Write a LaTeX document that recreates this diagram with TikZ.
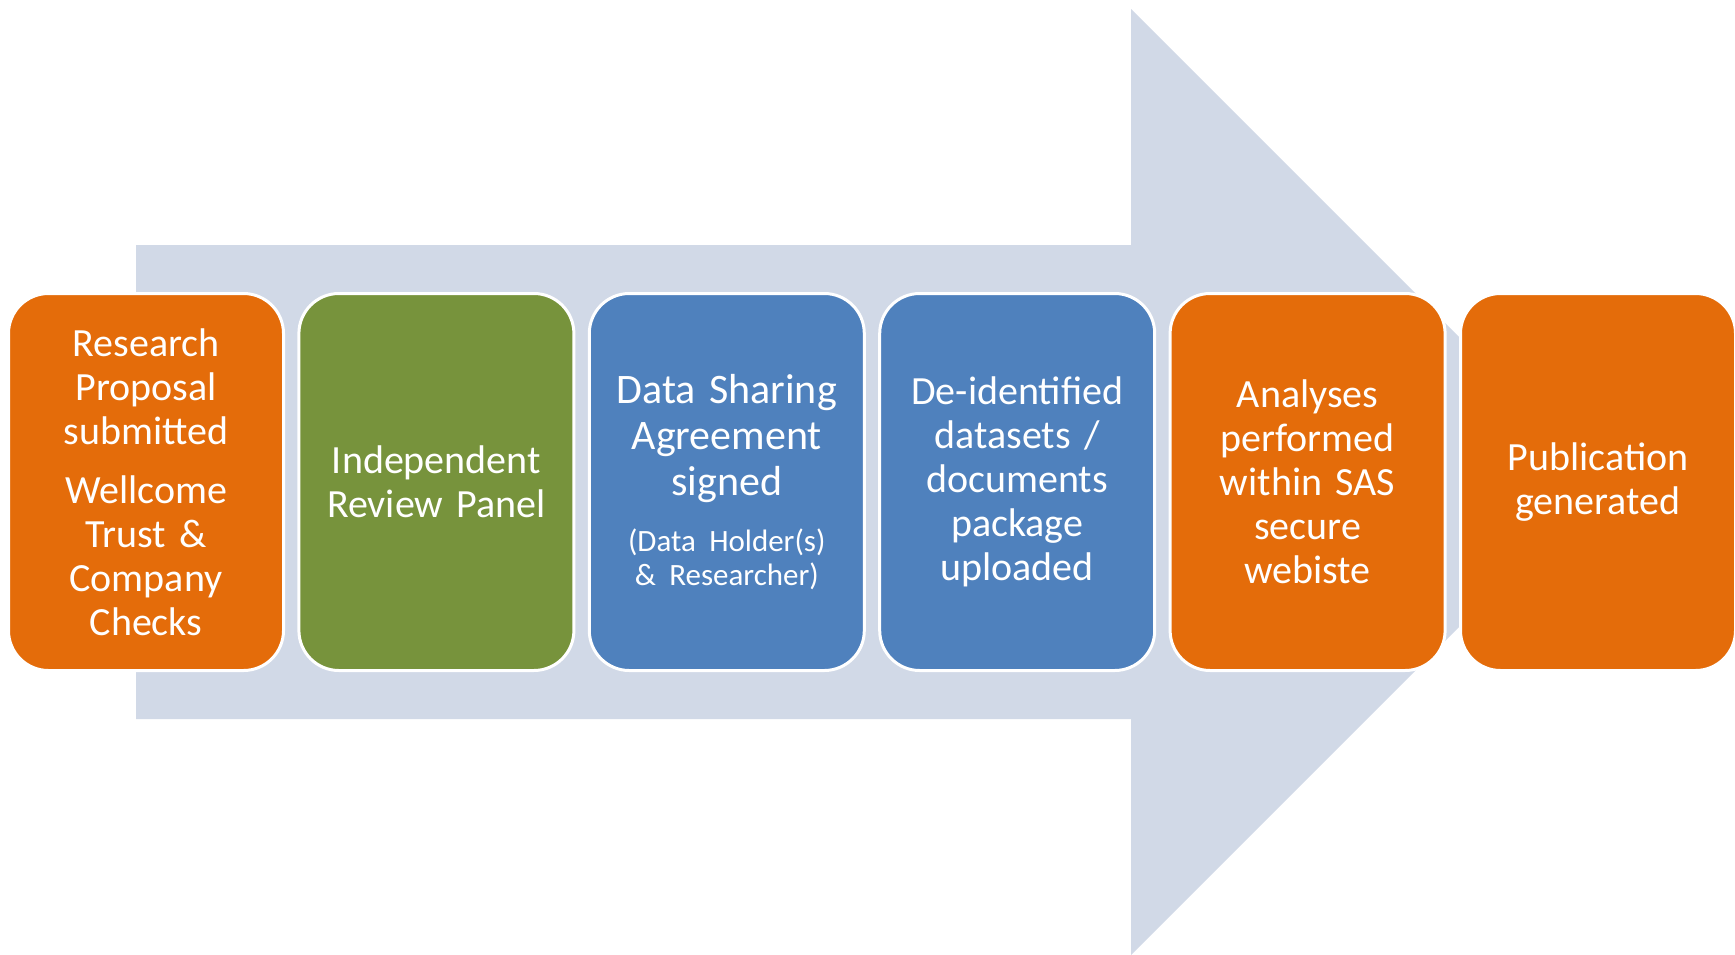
\documentclass[tikz,border=0pt]{standalone}
\usepackage{fontspec}
\setmainfont{Carlito}
\definecolor{stageorange}{HTML}{E46C0A}
\definecolor{stagegreen}{HTML}{77933C}
\definecolor{stageblue}{HTML}{4F81BD}
\definecolor{flowarrow}{HTML}{D1D9E7}
\tikzset{
    stage/.style={rectangle, rounded corners=20pt, draw=white, line width=1.5pt,
        minimum width=137.5pt, minimum height=188.5pt, inner sep=0pt,
        text width=134pt, align=center, text=white,
        font=\fontsize{20}{22}\selectfont},
}
\begin{document}
\begin{tikzpicture}[x=0.5pt,y=-0.5pt]
    \useasboundingbox (0,0) rectangle (1735,954);

    % big arrow behind the stages
    \fill[flowarrow] (136,245) -- (1131,245) -- (1131,9) -- (1604,482)
        -- (1131,955) -- (1131,719) -- (136,719) -- cycle;

    \node[stage, fill=stageorange] (research) at (146,482)
        {Research\\Proposal\\submitted\\[7.5pt]Wellcome\\Trust \&\\Company\\Checks};
    \node[stage, fill=stagegreen] (review) at (436.4,482)
        {Independent\\Review Panel};
    \node[stage, fill=stageblue] (agreement) at (726.8,482)
        {{\fontsize{21}{23.2}\selectfont Data Sharing\\Agreement\\signed\par}\vspace{11pt}%
         {\fontsize{15.5}{17}\selectfont (Data Holder(s)\\\& Researcher)\par}};
    \node[stage, fill=stageblue] (upload) at (1017.2,482)
        {De-identified\\datasets /\\documents\\package\\uploaded};
    \node[stage, fill=stageorange] (analyses) at (1307.6,482)
        {Analyses\\performed\\within SAS\\secure\\webiste};
    \node[stage, fill=stageorange] (publication) at (1598,482)
        {Publication\\generated};
\end{tikzpicture}
\end{document}
